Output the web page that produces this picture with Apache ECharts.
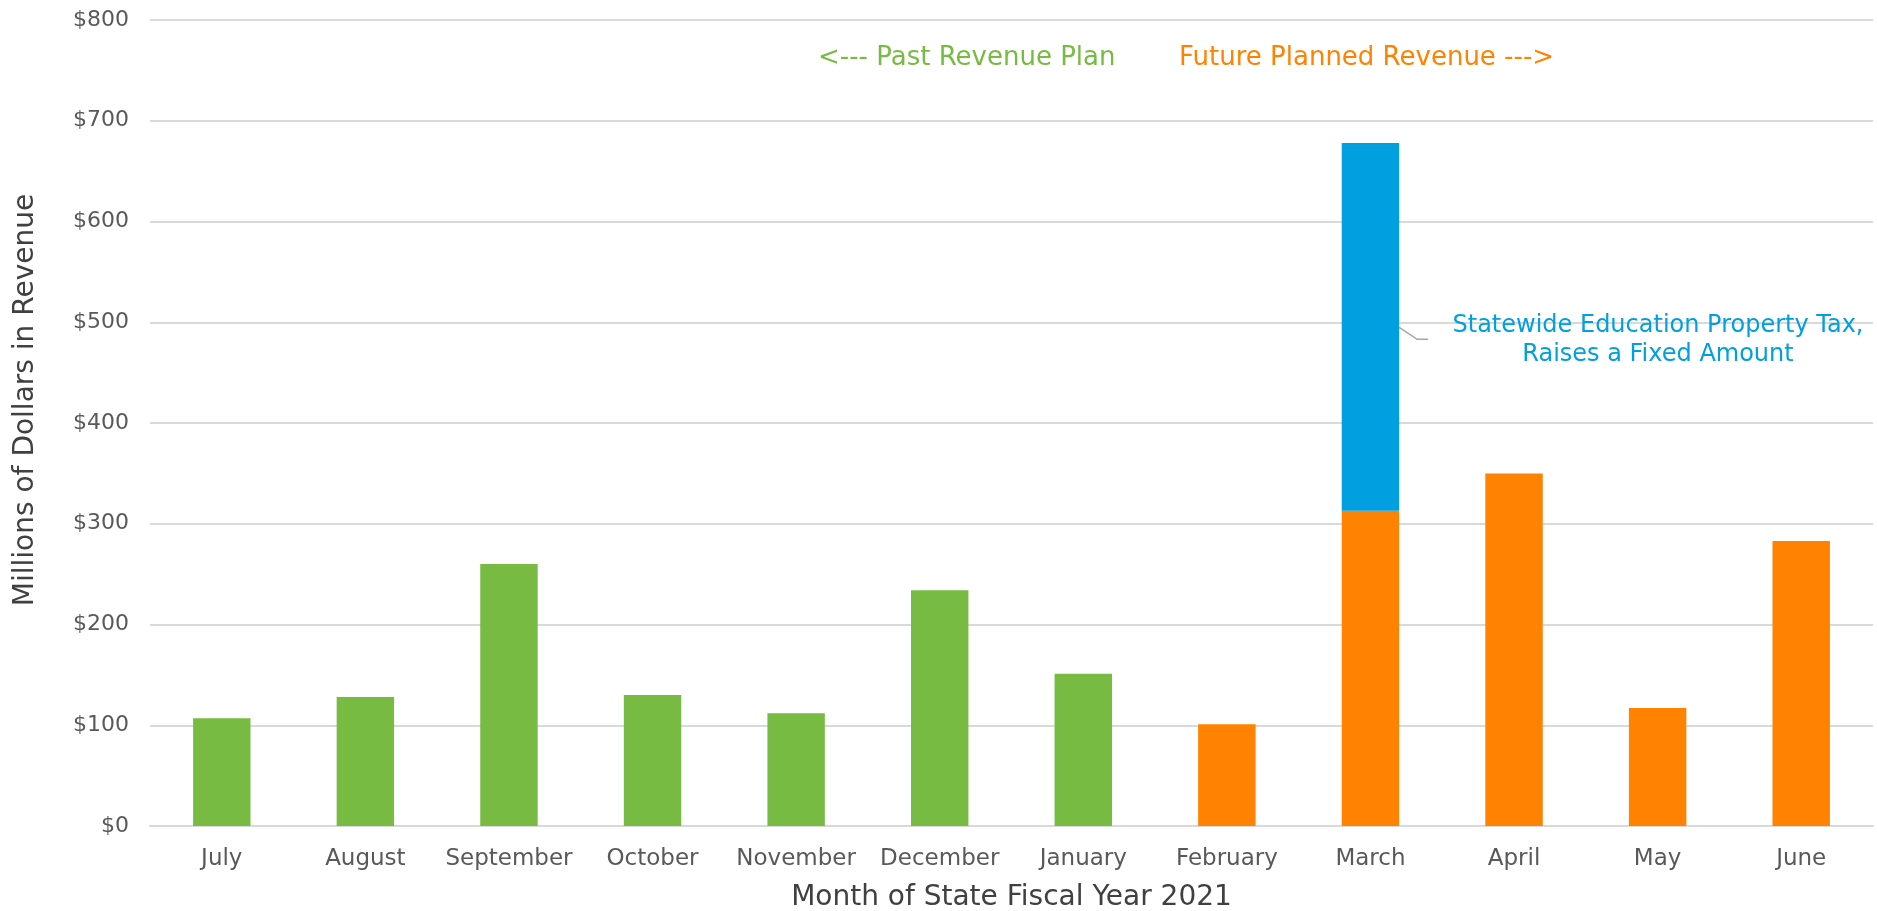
<!DOCTYPE html>
<html>
<head>
<meta charset="utf-8">
<title>Monthly Revenue FY2021</title>
<script src="https://cdn.jsdelivr.net/npm/echarts@6/dist/echarts.min.js"></script>
<style>
  html, body { margin: 0; padding: 0; background: #fff; }
  #chart { width: 1877px; height: 911px; }
</style>
</head>
<body>
<div id="chart"></div>
<script>
// data (millions of dollars)
var months = ['July', 'August', 'September', 'October', 'November', 'December',
              'January', 'February', 'March', 'April', 'May', 'June'];
var pastRevenue   = [107, 128, 260, 130, 112, 234, 151, '-', '-', '-', '-', '-'];
var futureRevenue = ['-', '-', '-', '-', '-', '-', '-', 101, 313, 350, 117, 283];
var propertyTax   = ['-', '-', '-', '-', '-', '-', '-', '-', 365, '-', '-', '-'];
var yTicks = [0, 800, 100]; // min, max, step

var GREEN = '#78bb43', ORANGE = '#ff8300', BLUE = '#009fdf';
var FONT = 'DejaVu Sans';

var myChart = echarts.init(document.getElementById('chart'));

var option = {
    backgroundColor: '#ffffff',
    animation: false,
    textStyle: { fontFamily: FONT },
    // fixed plot area, don't let labels push it around
    grid: { left: 150, right: 4, top: 20, bottom: 85, containLabel: false, outerBoundsMode: 'none' },
    xAxis: {
        type: 'category',
        data: months,
        name: 'Month of State Fiscal Year 2021',
        nameLocation: 'middle',
        nameGap: 58,
        nameTextStyle: { fontSize: 28, color: '#404040', fontFamily: FONT },
        axisLine: { lineStyle: { color: '#d9d9d9', width: 2 } },
        axisTick: { show: false },
        axisLabel: { interval: 0, fontSize: 23, color: '#595959', margin: 22 }
    },
    yAxis: {
        type: 'value',
        min: yTicks[0],
        max: yTicks[1],
        interval: yTicks[2],
        name: 'Millions of Dollars in Revenue',
        nameLocation: 'middle',
        nameGap: 110,
        // shift the title up a little, as in the original
        nameTextStyle: { fontSize: 28, color: '#404040', fontFamily: FONT, padding: [0, 0, 0, 46] },
        axisLine: { show: false },
        axisTick: { show: false },
        axisLabel: {
            fontSize: 22, color: '#595959', margin: 21,
            formatter: function (v) { return '$' + v; }
        },
        splitLine: { lineStyle: { color: '#d9d9d9', width: 2 } }
    },
    series: [
        {
            name: 'Past Revenue Plan',
            type: 'bar',
            stack: 'rev',
            barWidth: '40%',
            itemStyle: { color: GREEN },
            data: pastRevenue
        },
        {
            name: 'Future Planned Revenue',
            type: 'bar',
            stack: 'rev',
            barWidth: '40%',
            itemStyle: { color: ORANGE },
            data: futureRevenue
        },
        {
            name: 'Statewide Education Property Tax',
            type: 'bar',
            stack: 'rev',
            barWidth: '40%',
            itemStyle: { color: BLUE },
            data: propertyTax
        }
    ]
};

myChart.setOption(option);

// annotations: header arrows and the callout on the March property tax bar
var marchIdx = months.indexOf('March');
var anchor = myChart.convertToPixel({ seriesIndex: 2 }, [marchIdx, 495]);
var catW = (1877 - 150 - 4) / months.length;
var barRight = anchor[0] + catW * 0.2;

myChart.setOption({
    graphic: [
        {
            type: 'text', left: 818, top: 45,
            style: { text: '<--- Past Revenue Plan', fill: GREEN, fontSize: 26, fontFamily: FONT }
        },
        {
            type: 'text', left: 1179, top: 45,
            style: { text: 'Future Planned Revenue --->', fill: ORANGE, fontSize: 26, fontFamily: FONT }
        },
        {
            type: 'polyline',
            shape: { points: [[barRight, anchor[1]], [barRight + 18, anchor[1] + 12], [barRight + 29, anchor[1] + 12]] },
            style: { stroke: '#a6a6a6', lineWidth: 1.5, fill: null }
        },
        {
            type: 'text', x: 1658, y: anchor[1] - 16,
            style: {
                text: 'Statewide Education Property Tax,\nRaises a Fixed Amount',
                fill: BLUE, fontSize: 24, fontFamily: FONT,
                align: 'center', lineHeight: 29
            }
        }
    ]
});
</script>
</body>
</html>
